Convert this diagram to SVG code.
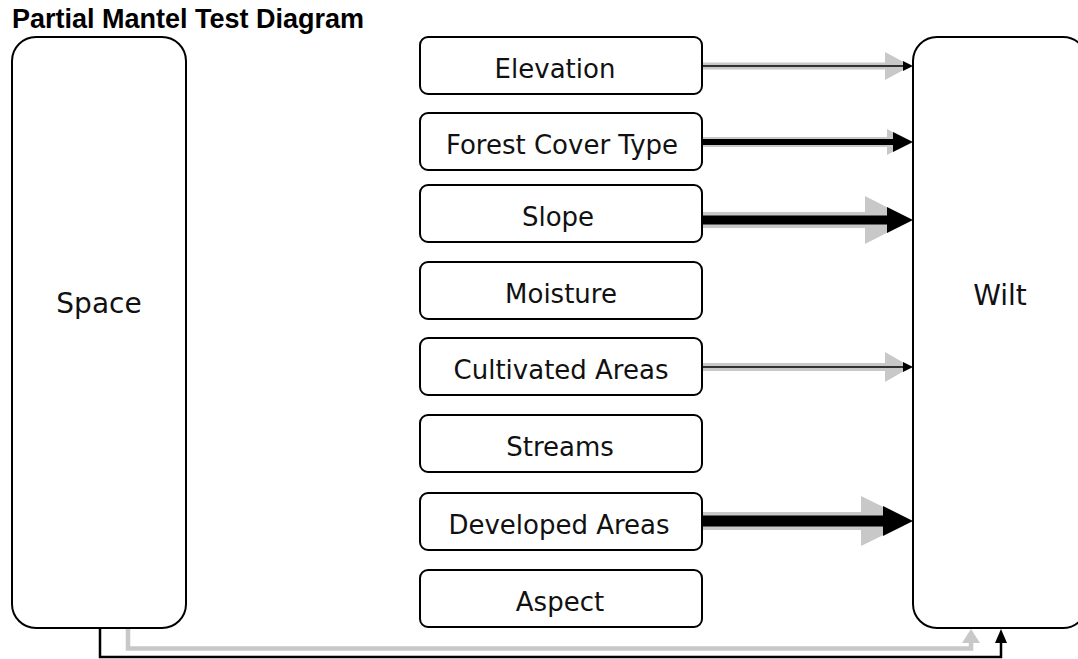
<svg xmlns="http://www.w3.org/2000/svg" width="1078" height="659" viewBox="0 0 1078 659">
<style>
.big{fill:#fff;stroke:#000;stroke-width:2}
.box{fill:#fff;stroke:#000;stroke-width:2}
.lbl{font-family:"DejaVu Sans",Verdana,sans-serif;font-size:26px;fill:#111;text-anchor:middle}
.blbl{font-family:"DejaVu Sans",Verdana,sans-serif;font-size:28px;fill:#111;text-anchor:middle}
.title{font-family:"Liberation Sans",Arial,sans-serif;font-weight:bold;font-size:27px;fill:#000}
.g{stroke:#c8c8c8;fill:none}
.k{stroke:#000;fill:none}
.gh{fill:#c8c8c8}
.kh{fill:#000}
</style>
<rect width="1078" height="659" fill="#fff"/>
<text class="title" x="12" y="28">Partial Mantel Test Diagram</text>
<g id="space"><rect class="big" x="12" y="37" width="174" height="591" rx="24" ry="24"/><text class="blbl" x="99" y="313">Space</text></g>
<g id="wilt"><rect class="big" x="913" y="37" width="174" height="591" rx="24" ry="24"/><text class="blbl" x="1000" y="305">Wilt</text></g>
<g id="elevation"><rect class="box" x="420" y="37" width="282" height="57" rx="8"/><text class="lbl" x="555" y="78">Elevation</text></g>
<g id="forest"><rect class="box" x="420" y="113" width="282" height="57" rx="8"/><text class="lbl" x="562" y="154">Forest Cover Type</text></g>
<g id="slope"><rect class="box" x="420" y="185" width="282" height="57" rx="8"/><text class="lbl" x="558" y="226">Slope</text></g>
<g id="moisture"><rect class="box" x="420" y="262" width="282" height="57" rx="8"/><text class="lbl" x="561" y="303">Moisture</text></g>
<g id="cultivated"><rect class="box" x="420" y="338" width="282" height="57" rx="8"/><text class="lbl" x="561" y="379">Cultivated Areas</text></g>
<g id="streams"><rect class="box" x="420" y="415" width="282" height="57" rx="8"/><text class="lbl" x="560" y="456">Streams</text></g>
<g id="developed"><rect class="box" x="420" y="493" width="282" height="57" rx="8"/><text class="lbl" x="559" y="534">Developed Areas</text></g>
<g id="aspect"><rect class="box" x="420" y="570" width="282" height="57" rx="8"/><text class="lbl" x="560" y="611">Aspect</text></g>
<g id="connectors">
<path class="g" stroke-width="7" d="M703,66H886"/>
<polygon class="gh" points="885,52 911,66 885,80"/>
<path class="k" stroke-width="1.5" d="M703,66H905"/>
<polygon class="kh" points="903,61 913,66 903,71"/>

<path class="g" stroke-width="10" d="M703,142H888"/>
<polygon class="gh" points="887,129 911,142 887,155"/>
<path class="k" stroke-width="6" d="M703,142H894"/>
<polygon class="kh" points="893,132 913,142 893,152"/>

<path class="g" stroke-width="16" d="M703,220H866"/>
<polygon class="gh" points="865,196 912,220 865,244"/>
<path class="k" stroke-width="9" d="M703,220H888"/>
<polygon class="kh" points="887,207 913,220 887,233"/>

<path class="g" stroke-width="8" d="M703,367H886"/>
<polygon class="gh" points="885,352 911,367 885,382"/>
<path class="k" stroke-width="1.5" d="M703,367H905"/>
<polygon class="kh" points="903,362 913,367 903,372"/>

<path class="g" stroke-width="18" d="M703,521H862"/>
<polygon class="gh" points="861,496 912,521 861,546"/>
<path class="k" stroke-width="11" d="M703,521H884"/>
<polygon class="kh" points="883,506 913,521 883,536"/>

<path class="g" stroke-width="4.5" d="M128,629V648.5H971V641"/>
<polygon class="gh" points="962,643 971,629 980,643"/>
<path class="k" stroke-width="2.5" d="M100,629V657H1001V641"/>
<polygon class="kh" points="995,643 1001,629 1007,643"/>
</g>
</svg>
